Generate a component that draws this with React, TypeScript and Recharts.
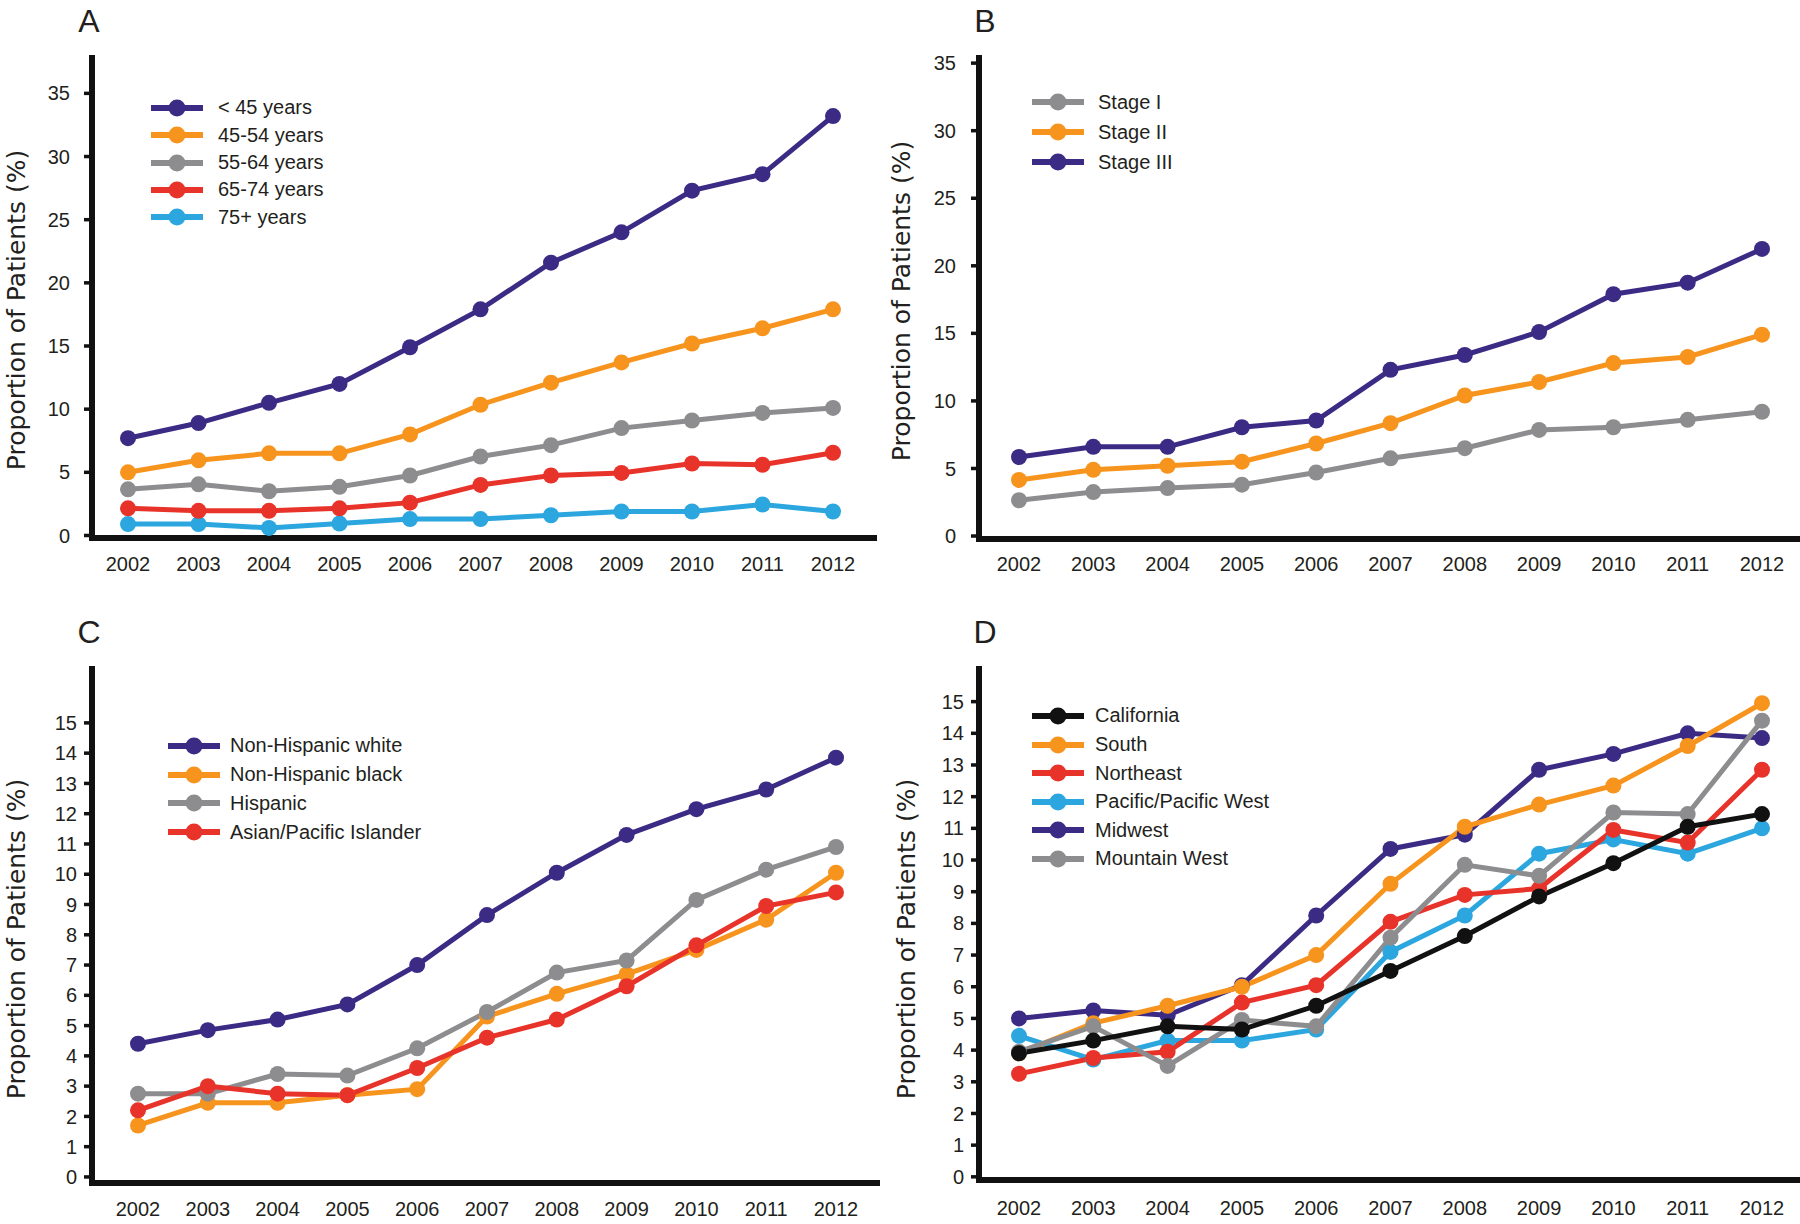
import React from 'react';
import { LineChart, Line, XAxis, YAxis } from 'recharts';

// years on the x axis
const years = [2002, 2003, 2004, 2005, 2006, 2007, 2008, 2009, 2010, 2011, 2012];

// A: age at diagnosis
const ageUnder45 = [7.7, 8.9, 10.5, 12.0, 14.9, 17.9, 21.6, 24.0, 27.3, 28.6, 33.2];
const age45to54 = [5.0, 5.95, 6.5, 6.5, 8.0, 10.35, 12.1, 13.7, 15.2, 16.4, 17.9];
const age55to64 = [3.65, 4.05, 3.5, 3.85, 4.75, 6.25, 7.15, 8.5, 9.1, 9.7, 10.1];
const age65to74 = [2.15, 1.95, 1.95, 2.15, 2.6, 4.0, 4.75, 4.95, 5.7, 5.6, 6.55];
const age75plus = [0.9, 0.9, 0.6, 0.95, 1.3, 1.3, 1.6, 1.9, 1.9, 2.45, 1.9];

// B: stage
const stageI = [2.65, 3.25, 3.55, 3.8, 4.7, 5.75, 6.5, 7.85, 8.05, 8.6, 9.2];
const stageII = [4.15, 4.9, 5.2, 5.5, 6.85, 8.35, 10.4, 11.4, 12.8, 13.25, 14.9];
const stageIII = [5.85, 6.6, 6.6, 8.05, 8.55, 12.3, 13.4, 15.1, 17.9, 18.75, 21.25];

// C: race / ethnicity
const nhWhite = [4.4, 4.85, 5.2, 5.7, 7.0, 8.65, 10.05, 11.3, 12.15, 12.8, 13.85];
const nhBlack = [1.7, 2.45, 2.45, 2.7, 2.9, 5.3, 6.05, 6.7, 7.5, 8.5, 10.05];
const hispanic = [2.75, 2.75, 3.4, 3.35, 4.25, 5.45, 6.75, 7.15, 9.15, 10.15, 10.9];
const asianPI = [2.2, 3.0, 2.75, 2.7, 3.6, 4.6, 5.2, 6.3, 7.65, 8.95, 9.4];

// D: region
const california = [3.9, 4.3, 4.75, 4.65, 5.4, 6.5, 7.6, 8.85, 9.9, 11.05, 11.45];
const south = [3.9, 4.85, 5.4, 6.0, 7.0, 9.25, 11.05, 11.75, 12.35, 13.6, 14.95];
const northeast = [3.25, 3.75, 3.95, 5.5, 6.05, 8.05, 8.9, 9.1, 10.95, 10.55, 12.85];
const pacificWest = [4.45, 3.7, 4.3, 4.3, 4.65, 7.1, 8.25, 10.2, 10.65, 10.2, 11.0];
const midwest = [5.0, 5.25, 5.1, 6.05, 8.25, 10.35, 10.8, 12.85, 13.35, 14.0, 13.85];
const mountainWest = [3.95, 4.75, 3.5, 4.95, 4.75, 7.55, 9.85, 9.5, 11.5, 11.45, 14.4];

const ticksWide = [0, 5, 10, 15, 20, 25, 30, 35];
const ticksFine = [0, 1, 2, 3, 4, 5, 6, 7, 8, 9, 10, 11, 12, 13, 14, 15];

const PURPLE = '#3b2b85';
const ORANGE = '#f7941e';
const GRAY = '#8d8d8f';
const RED = '#e8332a';
const BLUE = '#2ba6de';
const BLACK = '#111111';

const INK = '#231f20';
const sans = '"Liberation Sans", Arial, sans-serif';
const titleFont = '"DejaVu Sans", sans-serif';

type Series = { key: string; label: string; color: string; values: number[] };

const panelA: Series[] = [
  { key: 'u45', label: '< 45 years', color: PURPLE, values: ageUnder45 },
  { key: 'a45', label: '45-54 years', color: ORANGE, values: age45to54 },
  { key: 'a55', label: '55-64 years', color: GRAY, values: age55to64 },
  { key: 'a65', label: '65-74 years', color: RED, values: age65to74 },
  { key: 'a75', label: '75+ years', color: BLUE, values: age75plus },
];
const panelB: Series[] = [
  { key: 's1', label: 'Stage I', color: GRAY, values: stageI },
  { key: 's2', label: 'Stage II', color: ORANGE, values: stageII },
  { key: 's3', label: 'Stage III', color: PURPLE, values: stageIII },
];
const panelC: Series[] = [
  { key: 'white', label: 'Non-Hispanic white', color: PURPLE, values: nhWhite },
  { key: 'black', label: 'Non-Hispanic black', color: ORANGE, values: nhBlack },
  { key: 'hisp', label: 'Hispanic', color: GRAY, values: hispanic },
  { key: 'api', label: 'Asian/Pacific Islander', color: RED, values: asianPI },
];
const panelD: Series[] = [
  { key: 'ca', label: 'California', color: BLACK, values: california },
  { key: 'south', label: 'South', color: ORANGE, values: south },
  { key: 'ne', label: 'Northeast', color: RED, values: northeast },
  { key: 'pac', label: 'Pacific/Pacific West', color: BLUE, values: pacificWest },
  { key: 'mw', label: 'Midwest', color: PURPLE, values: midwest },
  { key: 'mtn', label: 'Mountain West', color: GRAY, values: mountainWest },
];

function buildRows(series: Series[]) {
  return years.map((year, i) => {
    const row: Record<string, number> = { year };
    series.forEach((s) => {
      row[s.key] = s.values[i];
    });
    return row;
  });
}

type Layout = {
  letter: string;
  left: number;
  top: number;
  width: number;
  height: number;
  axisW: number;
  marginTop: number;
  marginRight: number;
  xAxisH: number;
  padL: number;
  padR: number;
  yDomain: [number, number];
  yTicks: number[];
  yTickMargin: number;
  xTickMargin: number;
  titleX: number;
  titleY: number;
  letterX: number;
  letterY: number;
  legendX: number;
  legendY: number;
  rowH: number;
  textGap: number;
  drawOrder: string[];
};

function LegendBox({ series, layout }: { series: Series[]; layout: Layout }) {
  return (
    <div
      style={{
        position: 'absolute',
        left: layout.legendX,
        top: layout.legendY - layout.rowH / 2,
        fontFamily: sans,
        fontSize: 20,
        color: INK,
      }}
    >
      {series.map((s) => (
        <div key={s.key} style={{ height: layout.rowH, display: 'flex', alignItems: 'center', whiteSpace: 'nowrap' }}>
          <svg width={54} height={20} style={{ display: 'block', marginRight: layout.textGap }}>
            <line x1={1} y1={10} x2={53} y2={10} stroke={s.color} strokeWidth={6} />
            <circle cx={27} cy={10} r={8.5} fill={s.color} />
          </svg>
          <span>{s.label}</span>
        </div>
      ))}
    </div>
  );
}

function Panel({ series, layout }: { series: Series[]; layout: Layout }) {
  const rows = buildRows(series);
  const ordered = layout.drawOrder.map((k) => series.find((s) => s.key === k)!);
  return (
    <>
      <div style={{ position: 'absolute', left: layout.left, top: layout.top }}>
        <LineChart
          width={layout.width}
          height={layout.height}
          data={rows}
          margin={{ top: layout.marginTop, right: layout.marginRight, bottom: 0, left: 0 }}
        >
          <XAxis
            dataKey="year"
            type="number"
            domain={[2002, 2012]}
            ticks={years}
            interval={0}
            padding={{ left: layout.padL, right: layout.padR }}
            height={layout.xAxisH}
            tickLine={false}
            tickSize={0}
            tickMargin={layout.xTickMargin}
            axisLine={{ stroke: BLACK, strokeWidth: 6, strokeLinecap: 'square' }}
            tick={{ fill: INK, fontSize: 20, fontFamily: sans }}
          />
          <YAxis
            type="number"
            domain={layout.yDomain}
            ticks={layout.yTicks}
            interval={0}
            width={layout.axisW}
            tickSize={8}
            tickMargin={layout.yTickMargin}
            tickLine={{ stroke: BLACK, strokeWidth: 3.5 }}
            axisLine={{ stroke: BLACK, strokeWidth: 6, strokeLinecap: 'square' }}
            tick={{ fill: INK, fontSize: 20, fontFamily: sans }}
            label={() => (
              <text
                x={layout.titleX}
                y={layout.titleY}
                transform={`rotate(-90 ${layout.titleX} ${layout.titleY})`}
                textAnchor="middle"
                dominantBaseline="central"
                fill={INK}
                fontSize={25}
                fontFamily={titleFont}
              >
                Proportion of Patients (%)
              </text>
            )}
          />
          {ordered.map((s) => (
            <Line
              key={s.key}
              type="linear"
              dataKey={s.key}
              stroke={s.color}
              strokeWidth={5}
              dot={{ r: 8, fill: s.color, stroke: 'none' }}
              activeDot={false}
              isAnimationActive={false}
            />
          ))}
        </LineChart>
      </div>
      <div
        style={{
          position: 'absolute',
          left: layout.letterX - 20,
          top: layout.letterY - 20,
          width: 40,
          height: 40,
          lineHeight: '40px',
          textAlign: 'center',
          fontFamily: sans,
          fontSize: 32,
          color: INK,
        }}
      >
        {layout.letter}
      </div>
      <LegendBox series={series} layout={layout} />
    </>
  );
}

const layoutA: Layout = {
  letter: 'A', left: 0, top: 0, width: 880, height: 600,
  axisW: 92, marginTop: 58, marginRight: 6, xAxisH: 62, padL: 36, padR: 41,
  yDomain: [-0.2, 37.8], yTicks: ticksWide, yTickMargin: 14, xTickMargin: 19,
  titleX: 16, titleY: 310, letterX: 89, letterY: 21,
  legendX: 150, legendY: 108, rowH: 27.3, textGap: 14,
  drawOrder: ['a75', 'a65', 'a55', 'a45', 'u45'],
};
const layoutB: Layout = {
  letter: 'B', left: 880, top: 0, width: 920, height: 600,
  axisW: 99, marginTop: 58, marginRight: 0, xAxisH: 61, padL: 40, padR: 38,
  yDomain: [-0.22, 35.38], yTicks: ticksWide, yTickMargin: 15, xTickMargin: 18,
  titleX: 21, titleY: 301, letterX: 985, letterY: 21,
  legendX: 1031, legendY: 102, rowH: 30, textGap: 13,
  drawOrder: ['s1', 's2', 's3'],
};
const layoutC: Layout = {
  letter: 'C', left: 0, top: 600, width: 880, height: 624,
  axisW: 92, marginTop: 69, marginRight: 3, xAxisH: 41, padL: 46, padR: 41,
  yDomain: [-0.2, 16.78], yTicks: ticksFine, yTickMargin: 7, xTickMargin: 19,
  titleX: 16, titleY: 339, letterX: 89, letterY: 632,
  legendX: 167, legendY: 746, rowH: 28.7, textGap: 9,
  drawOrder: ['black', 'hisp', 'api', 'white'],
};
const layoutD: Layout = {
  letter: 'D', left: 880, top: 600, width: 920, height: 624,
  axisW: 99, marginTop: 69, marginRight: 0, xAxisH: 44, padL: 40, padR: 38,
  yDomain: [-0.1, 16.03], yTicks: ticksFine, yTickMargin: 7, xTickMargin: 21,
  titleX: 26, titleY: 339, letterX: 985, letterY: 632,
  legendX: 1031, legendY: 716, rowH: 28.6, textGap: 10,
  drawOrder: ['mw', 'pac', 'south', 'ne', 'mtn', 'ca'],
};

export default function App() {
  return (
    <div
      style={{
        position: 'absolute',
        left: 0,
        top: 0,
        width: 1800,
        height: 1224,
        background: '#ffffff',
        overflow: 'hidden',
      }}
    >
      <Panel series={panelA} layout={layoutA} />
      <Panel series={panelB} layout={layoutB} />
      <Panel series={panelC} layout={layoutC} />
      <Panel series={panelD} layout={layoutD} />
    </div>
  );
}
